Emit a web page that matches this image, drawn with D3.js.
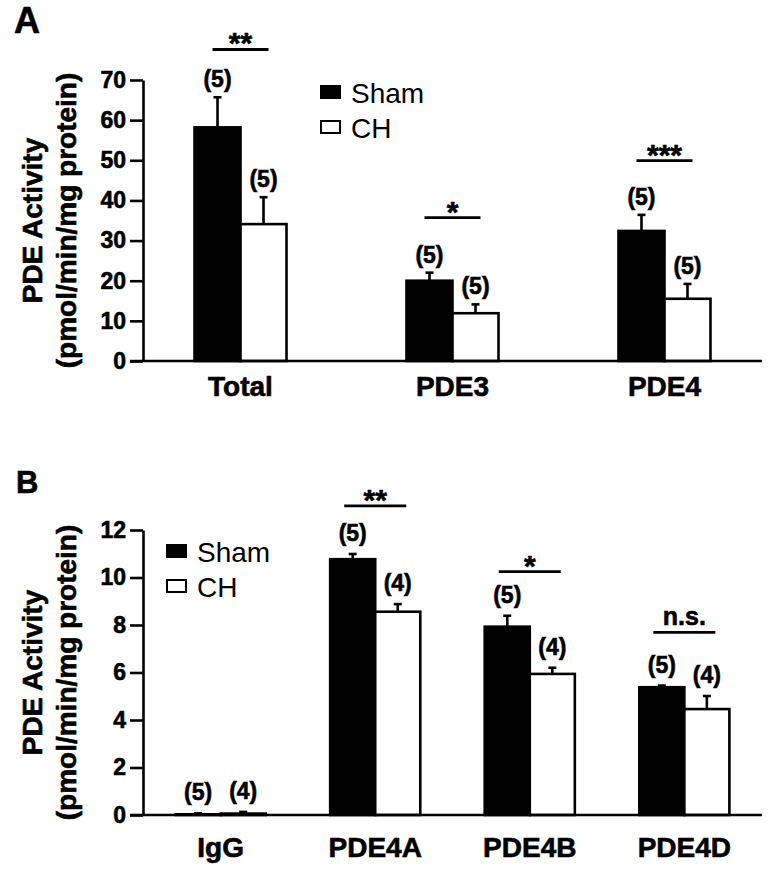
<!DOCTYPE html>
<html>
<head>
<meta charset="utf-8">
<script src="https://cdn.jsdelivr.net/npm/d3@7"></script>
<style>
  body { margin: 0; background: #fff; }
  svg { font-family: "Liberation Sans", Arial, sans-serif; }
  .heavy { stroke: #000; stroke-width: 0.6px; }
</style>
</head>
<body>
<svg id="chart" width="774" height="872"></svg>
<script>
// panel A: total / PDE3 / PDE4 activity
var catsA = ["Total", "PDE3", "PDE4"];
var shamA = [58.2, 20.0, 32.4];
var shamErrA = [7.5, 2.0, 4.0];
var chA = [34.1, 11.9, 15.5];
var chErrA = [6.7, 2.2, 3.7];
var nShamA = [5, 5, 5];
var nChA = [5, 5, 5];
var sigA = ["**", "*", "***"];
var sigLevelA = [77.6, 35.7, 49.9];
var ticksA = [0, 10, 20, 30, 40, 50, 60, 70];

// panel B: PDE4 subtypes
var catsB = ["IgG", "PDE4A", "PDE4B", "PDE4D"];
var shamB = [0.03, 10.77, 7.93, 5.38];
var shamErrB = [0.04, 0.22, 0.46, 0.07];
var chB = [0.06, 8.56, 5.94, 4.46];
var chErrB = [0.07, 0.32, 0.26, 0.55];
var nShamB = [5, 5, 5, 5];
var nChB = [4, 4, 4, 4];
var sigB = [null, "**", "*", "n.s."];
var sigLevelB = [null, 13.02, 10.25, 7.69];
var ticksB = [0, 2, 4, 6, 8, 10, 12];

var groups = ["Sham", "CH"];

var svg = d3.select("#chart");

function drawPanel(p) {
    var g = svg.append("g");

    var x0 = d3.scaleBand()
        .domain(p.cats)
        .range([143, 762])
        .paddingInner(p.padIn)
        .paddingOuter(p.padOut);
    var x1 = d3.scaleBand()
        .domain(groups)
        .range([0, x0.bandwidth()]);
    var y = d3.scaleLinear()
        .domain([0, p.ticks[p.ticks.length - 1]])
        .range(p.yRange);

    // rows: one per bar
    var rows = [];
    p.cats.forEach(function(c, i) {
        rows.push({cat: c, grp: "Sham", v: p.sham[i], e: p.shamErr[i], n: p.nSham[i]});
        rows.push({cat: c, grp: "CH", v: p.ch[i], e: p.chErr[i], n: p.nCh[i]});
    });

    // y axis
    var yAxis = d3.axisLeft(y).tickValues(p.ticks).tickSize(13).tickPadding(4).tickSizeOuter(0);
    var ya = g.append("g").attr("transform", "translate(143,0)").call(yAxis);
    ya.selectAll("path, line").attr("stroke", "#000").attr("stroke-width", 2.6);
    ya.selectAll("text")
        .attr("fill", "#000")
        .attr("class", "heavy")
        .style("font-size", "23px")
        .style("font-weight", "bold");

    // bars
    g.selectAll("rect.bar").data(rows).enter().append("rect")
        .attr("class", "bar")
        .attr("x", function(d) { return x0(d.cat) + x1(d.grp); })
        .attr("y", function(d) { return y(d.v); })
        .attr("width", x1.bandwidth())
        .attr("height", function(d) { return y(0) - y(d.v); })
        .attr("fill", function(d) { return d.grp == "Sham" ? "#000" : "#fff"; })
        .attr("stroke", "#000")
        .attr("stroke-width", 2.6);

    // error bars (upper only)
    var cx = function(d) { return x0(d.cat) + x1(d.grp) + x1.bandwidth() / 2; };
    g.selectAll("line.err").data(rows).enter().append("line")
        .attr("class", "err")
        .attr("x1", cx).attr("x2", cx)
        .attr("y1", function(d) { return y(d.v); })
        .attr("y2", function(d) { return y(d.v + d.e); })
        .attr("stroke", "#000").attr("stroke-width", 2.6);
    g.selectAll("line.cap").data(rows).enter().append("line")
        .attr("class", "cap")
        .attr("x1", function(d) { return cx(d) - 4; })
        .attr("x2", function(d) { return cx(d) + 4; })
        .attr("y1", function(d) { return y(d.v + d.e); })
        .attr("y2", function(d) { return y(d.v + d.e); })
        .attr("stroke", "#000").attr("stroke-width", 2.6);

    // n labels
    g.selectAll("text.n").data(rows).enter().append("text")
        .attr("class", "n heavy")
        .attr("x", cx)
        .attr("y", function(d) { return y(d.v + d.e) - p.nOffset; })
        .attr("text-anchor", "middle")
        .style("font-size", "23px")
        .style("font-weight", "bold")
        .text(function(d) { return "(" + d.n + ")"; });

    // x axis baseline
    g.append("line")
        .attr("x1", 130).attr("x2", 762)
        .attr("y1", y(0)).attr("y2", y(0))
        .attr("stroke", "#000").attr("stroke-width", 2.6);

    // category labels
    g.selectAll("text.cat").data(p.cats).enter().append("text")
        .attr("class", "cat heavy")
        .attr("x", function(d) { return x0(d) + x0.bandwidth() / 2; })
        .attr("y", y(0) + p.catOffset)
        .attr("text-anchor", "middle")
        .style("font-size", "28px")
        .style("font-weight", "bold")
        .text(function(d) { return d; });

    // significance bars
    var sig = p.cats.map(function(c, i) { return {cat: c, s: p.sig[i], lv: p.sigLevel[i]}; })
        .filter(function(d) { return d.s; });
    g.selectAll("line.sig").data(sig).enter().append("line")
        .attr("class", "sig")
        .attr("x1", function(d) { return x0(d.cat) + x0.bandwidth() / 2 - p.sigHalf; })
        .attr("x2", function(d) { return x0(d.cat) + x0.bandwidth() / 2 + p.sigHalf; })
        .attr("y1", function(d) { return y(d.lv); })
        .attr("y2", function(d) { return y(d.lv); })
        .attr("stroke", "#000").attr("stroke-width", 2.8);
    g.selectAll("text.sig").data(sig).enter().append("text")
        .attr("class", "sig heavy")
        .attr("x", function(d) { return x0(d.cat) + x0.bandwidth() / 2; })
        .attr("y", function(d) { return d.s == "n.s." ? y(d.lv) - 7 : y(d.lv) + 4; })
        .attr("text-anchor", "middle")
        .style("font-size", function(d) { return d.s == "n.s." ? "25px" : "30px"; })
        .style("font-weight", "bold")
        .text(function(d) { return d.s; });

    // y axis title
    var midY = (p.yRange[0] + p.yRange[1]) / 2;
    g.append("text")
        .attr("class", "heavy")
        .attr("transform", "translate(42," + midY + ") rotate(-90)")
        .attr("text-anchor", "middle")
        .style("font-size", "28px").style("font-weight", "bold")
        .text("PDE Activity");
    g.append("text")
        .attr("class", "heavy")
        .attr("transform", "translate(76," + midY + ") rotate(-90)")
        .attr("text-anchor", "middle")
        .style("font-size", "28px").style("font-weight", "bold")
        .text("(pmol/min/mg protein)");

    // panel letter
    g.append("text")
        .attr("class", "heavy")
        .attr("x", p.letterPos[0]).attr("y", p.letterPos[1])
        .style("font-size", p.letterSize + "px").style("font-weight", "bold")
        .text(p.letter);

    // legend
    var lg = g.selectAll("g.legend").data(groups).enter().append("g")
        .attr("class", "legend")
        .attr("transform", function(d, i) {
            return "translate(" + p.legendPos[0] + "," + (p.legendPos[1] + i * 35) + ")";
        });
    lg.append("rect")
        .attr("x", 1).attr("y", -17)
        .attr("width", 19).attr("height", 12)
        .attr("fill", function(d) { return d == "Sham" ? "#000" : "#fff"; })
        .attr("stroke", "#000").attr("stroke-width", 2);
    lg.append("text")
        .attr("x", 31).attr("y", 0)
        .style("font-size", "28px")
        .text(function(d) { return d; });
}

drawPanel({
    letter: "A", letterPos: [14, 33], letterSize: 36,
    cats: catsA, sham: shamA, shamErr: shamErrA, ch: chA, chErr: chErrA,
    nSham: nShamA, nCh: nChA, sig: sigA, sigLevel: sigLevelA, ticks: ticksA,
    yRange: [361, 80], padIn: 0.566, padOut: 0.243,
    nOffset: 10, catOffset: 35, sigHalf: 28, legendPos: [320, 103]
});

drawPanel({
    letter: "B", letterPos: [16, 493], letterSize: 31,
    cats: catsB, sham: shamB, shamErr: shamErrB, ch: chB, chErr: chErrB,
    nSham: nShamB, nCh: nChB, sig: sigB, sigLevel: sigLevelB, ticks: ticksB,
    yRange: [815, 530], padIn: 0.417, padOut: 0.211,
    nOffset: 13, catOffset: 42, sigHalf: 31, legendPos: [166, 562]
});
</script>
</body>
</html>
